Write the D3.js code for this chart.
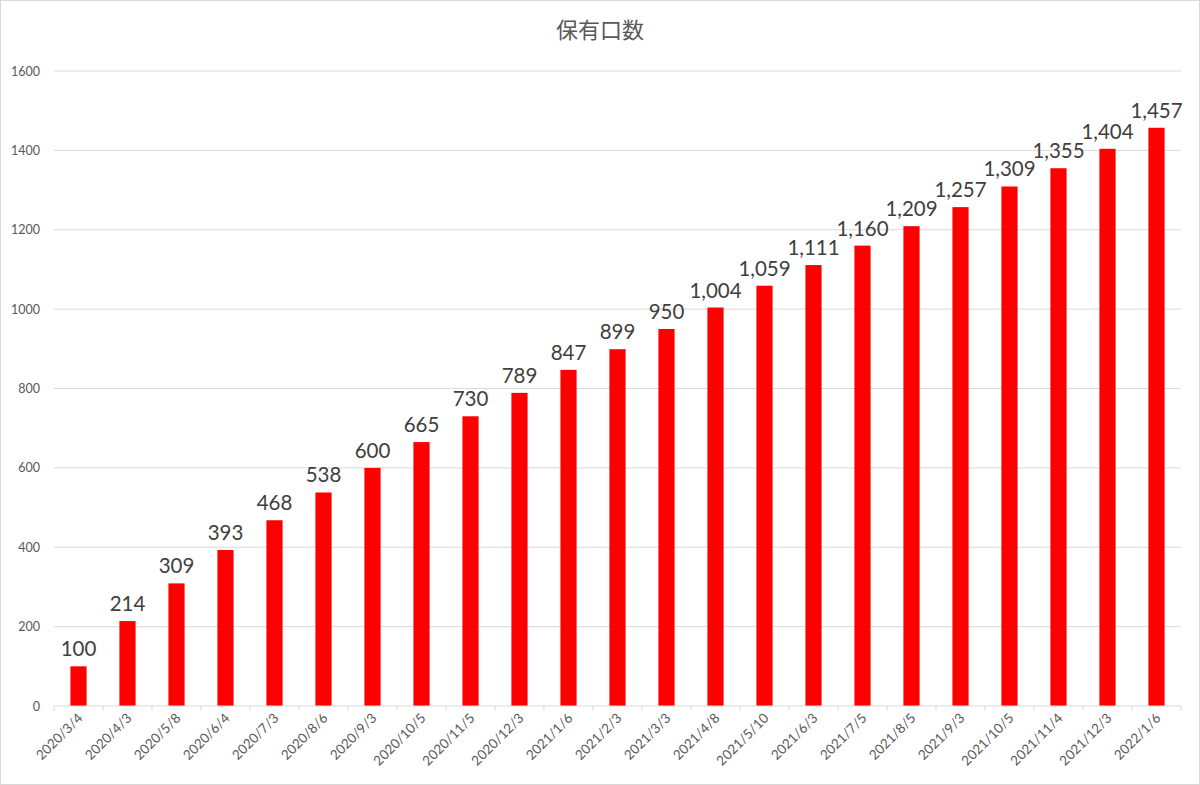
<!DOCTYPE html>
<html>
<head>
<meta charset="utf-8">
<script src="https://cdn.jsdelivr.net/npm/d3@7"></script>
<style>
  html, body { margin: 0; padding: 0; background: #fff; }
  svg { display: block; }
</style>
</head>
<body>
<svg id="chart"></svg>
<script>
// 保有口数 — one value per snapshot date
var dates = ["2020/3/4", "2020/4/3", "2020/5/8", "2020/6/4", "2020/7/3", "2020/8/6",
  "2020/9/3", "2020/10/5", "2020/11/5", "2020/12/3", "2021/1/6", "2021/2/3",
  "2021/3/3", "2021/4/8", "2021/5/10", "2021/6/3", "2021/7/5", "2021/8/5",
  "2021/9/3", "2021/10/5", "2021/11/4", "2021/12/3", "2022/1/6"];
var units = [100, 214, 309, 393, 468, 538, 600, 665, 730, 789, 847, 899,
  950, 1004, 1059, 1111, 1160, 1209, 1257, 1309, 1355, 1404, 1457];
var yTicks = [0, 200, 400, 600, 800, 1000, 1200, 1400, 1600];

var width = 1200, height = 785;
var margin = { top: 71, right: 19, bottom: 79, left: 54 };
var innerW = width - margin.left - margin.right;
var innerH = height - margin.top - margin.bottom;

var svg = d3.select("#chart").attr("width", width).attr("height", height);

svg.append("rect")
  .attr("x", 0.5).attr("y", 0.5)
  .attr("width", width - 1).attr("height", height - 1)
  .attr("fill", "#fff").attr("stroke", "#d9d9d9");

svg.append("text")
  .attr("x", width / 2).attr("y", 38)
  .attr("text-anchor", "middle")
  .attr("font-family", "'Noto Sans CJK JP', sans-serif")
  .attr("font-size", 22)
  .attr("fill", "#595959")
  .text("保有口数");

var g = svg.append("g").attr("transform", "translate(" + margin.left + "," + margin.top + ")");

var x = d3.scaleBand().domain(dates).range([0, innerW]).paddingInner(0.67).paddingOuter(0.335);
var y = d3.scaleLinear().domain([0, 1600]).range([innerH, 0]);

// gridlines
g.append("g").selectAll("line")
  .data(yTicks.filter(function (d) { return d > 0; }))
  .enter().append("line")
  .attr("x1", 0).attr("x2", innerW)
  .attr("y1", function (d) { return y(d); })
  .attr("y2", function (d) { return y(d); })
  .attr("stroke", "#d9d9d9").attr("stroke-width", 1);

// y axis labels
var yAxisG = g.append("g")
  .call(d3.axisLeft(y).tickValues(yTicks).tickSize(0).tickPadding(14).tickFormat(d3.format("d")));
yAxisG.select(".domain").remove();
yAxisG.selectAll("text")
  .attr("font-family", "Lato, 'Open Sans', sans-serif")
  .attr("font-size", 12.5)
  .attr("fill", "#595959");

// bars
g.append("g").selectAll("rect")
  .data(units)
  .enter().append("rect")
  .attr("x", function (d, i) { return x(dates[i]); })
  .attr("y", function (d) { return y(d); })
  .attr("width", x.bandwidth())
  .attr("height", function (d) { return innerH - y(d); })
  .attr("fill", "#ff0000");

// value labels
var fmt = d3.format(",");
g.append("g").selectAll("text")
  .data(units)
  .enter().append("text")
  .attr("x", function (d, i) { return x(dates[i]) + x.bandwidth() / 2; })
  .attr("y", function (d) { return y(d) - 10; })
  .attr("text-anchor", "middle")
  .attr("font-family", "Lato, 'Open Sans', sans-serif")
  .attr("font-size", 20.5)
  .attr("fill", "#404040")
  .text(fmt);

// x axis with ticks between categories
var xAxisG = g.append("g").attr("transform", "translate(0," + innerH + ")");
xAxisG.append("line")
  .attr("x1", 0).attr("x2", innerW)
  .attr("stroke", "#d9d9d9");
var step = x.step();
xAxisG.selectAll("line.tick")
  .data(d3.range(dates.length + 1))
  .enter().append("line")
  .attr("class", "tick")
  .attr("x1", function (i) { return i * step; })
  .attr("x2", function (i) { return i * step; })
  .attr("y1", 0).attr("y2", 5)
  .attr("stroke", "#d9d9d9");

xAxisG.selectAll("text")
  .data(dates)
  .enter().append("text")
  .attr("transform", function (d) {
    return "translate(" + (x(d) + x.bandwidth() / 2 + 5) + ",13) rotate(-45)";
  })
  .attr("text-anchor", "end")
  .attr("font-family", "Lato, 'Open Sans', sans-serif")
  .attr("font-size", 13.5)
  .attr("fill", "#595959")
  .text(function (d) { return d; });
</script>
</body>
</html>
